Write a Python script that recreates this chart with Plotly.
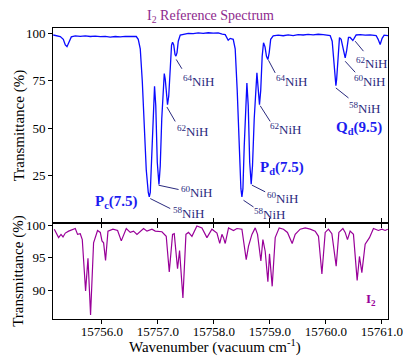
import numpy as np
import plotly.graph_objects as go

# ---------------- data ----------------
nih_wn = [15755.130, 15755.184, 15755.255, 15755.309, 15755.345, 15755.375, 15755.407, 15755.452,
          15755.523, 15755.612, 15755.702, 15755.791, 15755.880, 15755.970, 15756.059, 15756.148,
          15756.238, 15756.327, 15756.416, 15756.505, 15756.559, 15756.613, 15756.648, 15756.684,
          15756.720, 15756.755, 15756.791, 15756.827, 15756.845, 15756.863, 15756.889, 15756.916,
          15756.939, 15756.961, 15756.988, 15757.018, 15757.041, 15757.068, 15757.095, 15757.113,
          15757.130, 15757.152, 15757.171, 15757.193, 15757.220, 15757.243, 15757.261, 15757.282,
          15757.305, 15757.321, 15757.341, 15757.363, 15757.398, 15757.452, 15757.541, 15757.630,
          15757.720, 15757.809, 15757.898, 15757.988, 15758.077, 15758.148, 15758.202, 15758.255,
          15758.291, 15758.345, 15758.380, 15758.416, 15758.452, 15758.482, 15758.500, 15758.518,
          15758.541, 15758.568, 15758.589, 15758.613, 15758.639, 15758.666, 15758.689, 15758.720,
          15758.750, 15758.768, 15758.788, 15758.814, 15758.836, 15758.862, 15758.886, 15758.913,
          15758.939, 15758.964, 15758.988, 15759.014, 15759.059, 15759.148, 15759.238, 15759.327,
          15759.416, 15759.505, 15759.595, 15759.684, 15759.773, 15759.863, 15759.952, 15760.023,
          15760.077, 15760.113, 15760.139, 15760.166, 15760.179, 15760.193, 15760.220, 15760.243,
          15760.273, 15760.309, 15760.345, 15760.371, 15760.404, 15760.434, 15760.461, 15760.482,
          15760.505, 15760.541, 15760.613, 15760.702, 15760.791, 15760.898, 15760.934, 15760.970,
          15761.005, 15761.041, 15761.113]
nih_T = [99.3, 98.8, 98.5, 97.0, 94.0, 93.1, 95.5, 98.3,
         98.8, 98.6, 98.8, 98.5, 98.7, 98.4, 98.6, 98.2,
         98.5, 98.3, 98.6, 98.4, 98.3, 98.5, 97.0, 92.0,
         75.0, 50.0, 28.0, 16.0, 13.6, 16.0, 35.0, 62.0,
         72.1, 62.0, 32.0, 20.2, 30.0, 55.0, 75.0, 78.9,
         76.0, 66.0, 62.4, 67.0, 85.0, 94.0, 95.5, 94.0,
         89.0, 88.1, 90.0, 96.0, 99.3, 99.6, 100.2, 100.0,
         100.4, 100.2, 100.5, 100.3, 100.4, 99.8, 99.5, 96.5,
         97.5, 97.0, 92.0, 70.0, 40.0, 18.0, 13.6, 18.0,
         40.0, 65.0, 73.9, 62.0, 32.0, 20.4, 30.0, 55.0,
         76.0, 79.3, 72.0, 62.4, 70.0, 88.0, 95.2, 93.0,
         88.0, 86.3, 90.0, 97.0, 98.8, 99.2, 98.9, 99.4,
         99.0, 99.5, 99.3, 99.6, 99.4, 99.7, 99.5, 99.2,
         99.0, 96.0, 88.0, 76.0, 72.5, 76.0, 92.0, 97.9,
         97.0, 91.0, 87.2, 91.0, 98.0, 98.0, 97.0, 96.4,
         97.5, 99.3, 99.5, 99.2, 99.4, 99.0, 97.0, 94.3,
         97.5, 99.2, 99.0]

i2_wn = [15755.148, 15755.225, 15755.268, 15755.304, 15755.345, 15755.404, 15755.523, 15755.564,
         15755.612, 15755.648, 15755.707, 15755.750, 15755.796, 15755.850, 15755.921, 15755.970,
         15756.000, 15756.029, 15756.064, 15756.107, 15756.196, 15756.279, 15756.345, 15756.434,
         15756.505, 15756.564, 15756.625, 15756.743, 15756.804, 15756.893, 15756.952, 15757.071,
         15757.148, 15757.202, 15757.261, 15757.291, 15757.350, 15757.386, 15757.446, 15757.500,
         15757.546, 15757.607, 15757.696, 15757.786, 15757.875, 15757.964, 15758.054, 15758.104,
         15758.143, 15758.171, 15758.202, 15758.261, 15758.350, 15758.411, 15758.500, 15758.577,
         15758.618, 15758.679, 15758.738, 15758.779, 15758.839, 15758.875, 15758.916, 15758.964,
         15758.993, 15759.041, 15759.095, 15759.166, 15759.243, 15759.314, 15759.398, 15759.452,
         15759.541, 15759.630, 15759.720, 15759.809, 15759.868, 15759.929, 15759.988, 15760.046,
         15760.107, 15760.184, 15760.232, 15760.304, 15760.345, 15760.386, 15760.434, 15760.493,
         15760.559, 15760.600, 15760.643, 15760.702, 15760.779, 15760.850, 15760.939, 15761.000,
         15761.059, 15761.107]
i2_T = [99.4, 98.1, 98.6, 98.2, 98.8, 99.1, 99.5, 98.6,
        98.7, 97.8, 89.9, 94.9, 86.2, 97.3, 99.2, 98.9,
        97.6, 97.3, 94.6, 99.1, 99.4, 99.2, 97.6, 99.5,
        98.9, 99.1, 98.6, 99.5, 99.1, 99.4, 99.1, 99.0,
        98.3, 92.8, 98.6, 98.7, 93.3, 96.1, 88.8, 98.6,
        98.9, 98.3, 99.9, 99.6, 98.1, 99.4, 98.8, 97.2,
        98.6, 98.1, 97.2, 99.6, 99.2, 99.5, 99.4, 94.7,
        96.8, 98.6, 99.6, 98.6, 94.5, 97.8, 96.0, 91.3,
        95.6, 90.6, 98.1, 99.6, 99.4, 98.9, 97.2, 98.6,
        99.4, 99.6, 99.4, 99.1, 98.3, 92.5, 98.9, 99.4,
        98.7, 93.7, 98.9, 99.5, 98.9, 97.8, 99.1, 98.6,
        91.5, 95.2, 92.7, 97.1, 98.1, 99.5, 99.2, 99.4,
        99.2, 99.4]

x_ticks = [15756.0, 15757.0, 15758.0, 15759.0, 15760.0, 15761.0]
top_y_ticks = [25, 50, 75, 100]
bot_y_ticks = [90, 95, 100]

iso_masses = [64, 62, 60, 58, 64, 62, 60, 58, 62, 60, 58]
iso_heads = [15757.321, 15757.171, 15757.018, 15756.845,
             15758.964, 15758.814, 15758.666, 15758.500,
             15760.482, 15760.345, 15760.179]
band_labels = ["P<sub>c</sub>(7.5)", "P<sub>d</sub>(7.5)", "Q<sub>d</sub>(9.5)"]
i2_label = "I<sub>2</sub>"
title_text = "I<sub>2</sub> Reference Spectrum"
x_title = "Wavenumber (vacuum cm<sup>-1</sup>)"
y_title = "Transmittance (%)"

# ---------------- styles / positions ----------------
FONT = "Liberation Serif"
BLUE = "#0a0aff"
PURPLE = "#990099"
NAVY = "#2a2a7e"
LABEL_BLUE = "#1c1cf0"

# pixel offsets (dx right, dy down) relative to line minimum
text_off = [(5.5, 24.5), (7, 26), (20.5, 7.5), (22, 16.5),
            (6.5, 21.5), (9, 24.5), (13.3, 13.5), (10.5, 17.5),
            (1.5, 22.5), (7.3, 23), (11.5, 22.3)]
line_off = [((0.3, 3.3), (6, 12.6)), ((-0.6, 2.3), (7.7, 16.7)), ((-0.4, 0.7), (19.6, 5)), ((1, 1.6), (21, 11.6)),
            ((0.6, 0.7), (7.3, 13.3)), ((0.7, 1), (10.7, 16.7)), ((0.7, 1), (14, 7.7)), ((1.6, 3.3), (11.6, 10)),
            ((2.3, 0.7), (10.6, 10.7)), ((0, 3.4), (10, 14.4)), ((0, 2.3), (12.6, 12.3))]
band_pos = [(15756.255, 10.8), (15759.211, 28.7), (15760.586, 50.0)]
i2_pos = (15760.809, 88.5)

x_range = [15755.125, 15761.11]
split = 0.331

fig = go.Figure()
fig.add_trace(go.Scatter(x=nih_wn, y=nih_T, xaxis="x2", yaxis="y2", mode="lines",
                         line=dict(color=BLUE, width=1.3), showlegend=False, hoverinfo="skip"))
fig.add_trace(go.Scatter(x=i2_wn, y=i2_T, xaxis="x", yaxis="y", mode="lines",
                         line=dict(color=PURPLE, width=1.2), showlegend=False, hoverinfo="skip"))
fig.add_trace(go.Scatter(x=[x_range[0]], y=[100], xaxis="x3", yaxis="y", mode="markers",
                         marker=dict(opacity=0), showlegend=False, hoverinfo="skip"))

annotations = []
shapes = []
for m, wn, (tx, ty), ((sx, sy), (ex, ey)) in zip(iso_masses, iso_heads, text_off, line_off):
    T = float(np.interp(wn, nih_wn, nih_T))
    annotations.append(dict(x=wn, y=T, xref="x2", yref="y2", showarrow=False,
                            text=f"<sup>{m}</sup>NiH", xanchor="left", yanchor="middle",
                            xshift=tx, yshift=-ty, font=dict(family=FONT, size=13, color=NAVY)))
    shapes.append(dict(type="line", xref="x2", yref="y2", xsizemode="pixel", ysizemode="pixel",
                       xanchor=wn, yanchor=T, x0=sx, x1=ex, y0=-sy, y1=-ey,
                       line=dict(color=NAVY, width=1)))
for lab, (bx, by) in zip(band_labels, band_pos):
    annotations.append(dict(x=bx, y=by, xref="x2", yref="y2", showarrow=False, text=f"<b>{lab}</b>",
                            font=dict(family=FONT, size=15, color=LABEL_BLUE)))
annotations.append(dict(x=i2_pos[0], y=i2_pos[1], xref="x", yref="y", showarrow=False,
                        text=f"<b>{i2_label}</b>", font=dict(family=FONT, size=13, color=PURPLE)))
# chart title
annotations.append(dict(x=0.47, y=1.0, xref="paper", yref="paper", yshift=12, showarrow=False,
                        text=title_text, yanchor="middle",
                        font=dict(family=FONT, size=14, color="#8e2a8e")))
# axis titles
annotations.append(dict(x=0.485, y=0, xref="paper", yref="paper", yshift=-27, showarrow=False,
                        text=x_title, yanchor="middle", font=dict(family=FONT, size=15, color="black")))
for yc in [split / 2, (1 + split) / 2]:
    annotations.append(dict(x=0, y=yc, xref="paper", yref="paper", xshift=-34, showarrow=False,
                            text=y_title, textangle=-90, xanchor="center", yanchor="middle",
                            font=dict(family=FONT, size=15, color="black")))

axis_common = dict(showline=True, linecolor="black", linewidth=1, mirror=True,
                   showgrid=False, zeroline=False, tickcolor="black", automargin=False,
                   tickfont=dict(family=FONT, size=13, color="black"))

fig.update_layout(
    template="none",
    width=403, height=358, margin=dict(l=53, r=15, t=28, b=39, autoexpand=False),
    paper_bgcolor="white", plot_bgcolor="white",
    font=dict(family=FONT, color="black"),
    xaxis=dict(axis_common, anchor="y", range=x_range, tickvals=x_ticks, tickformat=".1f",
               ticks="outside", ticklen=4, ticklabelstandoff=-4),
    xaxis3=dict(overlaying="x", anchor="y", side="top", matches="x", range=x_range, tickvals=x_ticks,
                ticks="inside", ticklen=5, showticklabels=False, showline=False, showgrid=False,
                zeroline=False, tickcolor="black", automargin=False),
    yaxis=dict(axis_common, domain=[0, split], range=[85.57, 100.4], tickvals=bot_y_ticks,
               ticks="outside", ticklen=4),
    xaxis2=dict(axis_common, anchor="y2", matches="x", range=x_range, tickvals=x_ticks,
                showticklabels=False, ticks="inside", ticklen=5),
    yaxis2=dict(axis_common, domain=[split, 1], range=[0, 103], tickvals=top_y_ticks,
                ticks="outside", ticklen=4),
    annotations=annotations, shapes=shapes,
)

fig.write_html("out.html")
